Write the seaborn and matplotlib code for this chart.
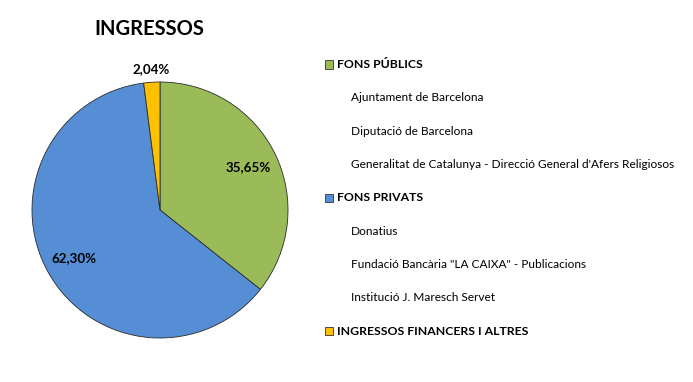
import matplotlib.pyplot as plt
from matplotlib.patches import Rectangle
import seaborn as sns
import numpy as np

sns.set_theme(style="white")
plt.rcParams['font.family'] = ['Lato', 'DejaVu Sans']

# data
groups = ["FONS PÚBLICS", "FONS PRIVATS", "INGRESSOS FINANCERS I ALTRES"]
shares = [35.65, 62.30, 2.04]
group_colors = ["#9BBB59", "#558ED5", "#FFC000"]
sub_items = {
    "FONS PÚBLICS": ["Ajuntament de Barcelona", "Diputació de Barcelona",
                     "Generalitat de Catalunya - Direcció General d'Afers Religiosos"],
    "FONS PRIVATS": ["Donatius", "Fundació Bancària \"LA CAIXA\" - Publicacions",
                     "Institució J. Maresch Servet"],
    "INGRESSOS FINANCERS I ALTRES": [],
}

W, H = 693, 382
fig = plt.figure(figsize=(W / 100, H / 100), dpi=100)
fig.patch.set_facecolor("white")

total = sum(shares)
ax = fig.add_axes([32 / W, (H - 338) / H, 256 / W, 256 / H])
wedges, texts, autotexts = ax.pie(
    shares, colors=group_colors, startangle=90, counterclock=False,
    autopct=lambda p: f"{p * total / 100:.2f}%".replace(".", ","), pctdistance=0.77,
    wedgeprops=dict(edgecolor="#2b2b2b", linewidth=0.6),
    textprops=dict(fontsize=9.6, fontweight="bold", color="black"))
ax.set_xlim(-1, 1)
ax.set_ylim(-1, 1)
ax.set_aspect("equal")
ax.set_axis_off()

# small slice label sits outside the pie
w = wedges[2]
mid = np.deg2rad((w.theta1 + w.theta2) / 2)
autotexts[2].set_position((1.10 * np.cos(mid), 1.10 * np.sin(mid)))
autotexts[2].set_clip_on(False)

fig.text(149 / W, 1 - 29 / H, "INGRESSOS", ha="center", va="center",
         fontsize=14.5, fontweight="bold", color="black")

# legend drawn by hand: group headers with a coloured square, sub items indented
row_h = 33.35
y = 64.5
for g, c in zip(groups, group_colors):
    fig.patches.append(Rectangle((325 / W, 1 - (y + 4) / H), 8 / W, 8 / H,
                                 transform=fig.transFigure, facecolor=c,
                                 edgecolor="#333333", linewidth=0.6))
    fig.text(337 / W, 1 - y / H, g, ha="left", va="center",
             fontsize=8.8, fontweight="bold", color="black")
    y += row_h
    for s in sub_items[g]:
        fig.text(351 / W, 1 - y / H, s, ha="left", va="center",
                 fontsize=8.6, color="black")
        y += row_h

fig.savefig("out.png", dpi=100, facecolor="white")
